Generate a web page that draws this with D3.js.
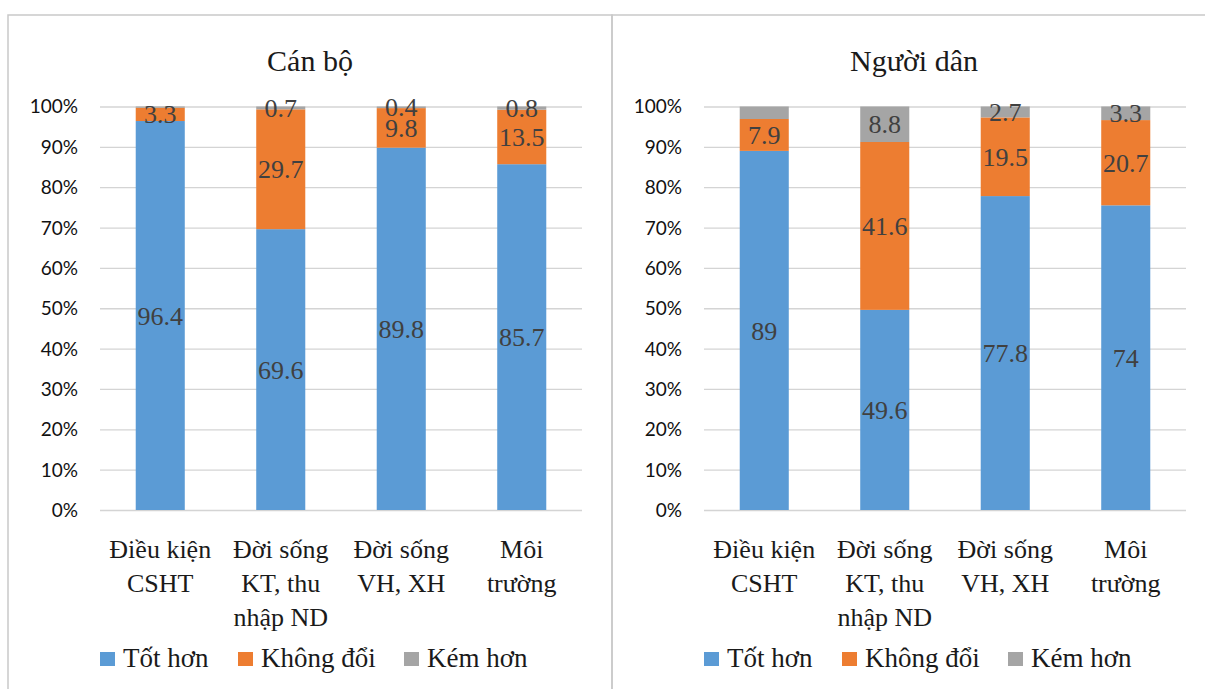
<!DOCTYPE html>
<html>
<head>
<meta charset="utf-8">
<script src="https://cdn.jsdelivr.net/npm/d3@7"></script>
</head>
<body style="margin:0">
<svg id="chart" width="1205" height="689"></svg>
<script>
// Categories (multi-line labels split on "\n")
const categories = [
  "Điều kiện\nCSHT",
  "Đời sống\nKT, thu\nnhập ND",
  "Đời sống\nVH, XH",
  "Môi\ntrường"
];
const seriesNames = ["Tốt hơn", "Không đổi", "Kém hơn"];
const seriesColors = ["#5B9BD5", "#ED7D31", "#A5A5A5"];
const yTicks = [0, 0.1, 0.2, 0.3, 0.4, 0.5, 0.6, 0.7, 0.8, 0.9, 1];

// Cán bộ
const canBoTotHon = [96.4, 69.6, 89.8, 85.7];
const canBoKhongDoi = [3.3, 29.7, 9.8, 13.5];
const canBoKemHon = [0.3, 0.7, 0.4, 0.8];
const canBoKemHonShown = [false, true, true, true];

// Người dân
const nguoiDanTotHon = [89, 49.6, 77.8, 74];
const nguoiDanKhongDoi = [7.9, 41.6, 19.5, 20.7];
const nguoiDanKemHon = [3.1, 8.8, 2.7, 3.3];
const nguoiDanKemHonShown = [false, true, true, true];

const svg = d3.select("#chart");
const SERIF = "Times New Roman";
const SANS = "Lato";

// Outer frames of the two chart panels
svg.append("rect").attr("x", 8).attr("y", 15).attr("width", 604).attr("height", 700)
  .attr("fill", "none").attr("stroke", "#C9C9C9").attr("stroke-width", 1.5);
svg.append("rect").attr("x", 612).attr("y", 15).attr("width", 604).attr("height", 700)
  .attr("fill", "none").attr("stroke", "#C9C9C9").attr("stroke-width", 1.5);

function drawPanel(offsetX, title, tot, khong, kem, kemShown) {
  const g = svg.append("g").attr("transform", `translate(${offsetX},0)`);
  const left = 92, right = 574, top = 106.5, bottom = 510;

  const x = d3.scaleBand().domain(categories).range([left, right])
    .paddingInner(0.593).paddingOuter(0.2965);
  const y = d3.scaleLinear().domain([0, 1]).range([bottom, top]);

  // Title
  g.append("text").attr("x", 302).attr("y", 71)
    .attr("text-anchor", "middle")
    .attr("font-family", SERIF).attr("font-size", 30).attr("fill", "#1a1a1a")
    .text(title);

  // Gridlines
  const grid = g.append("g").attr("transform", `translate(${left},0)`)
    .call(d3.axisLeft(y).tickValues(yTicks).tickSize(-(right - left)).tickFormat(""));
  grid.select(".domain").remove();
  grid.selectAll(".tick line").attr("stroke", "#D4D4D4").attr("stroke-width", 1.3);

  // Y axis labels
  const ya = g.append("g").attr("transform", `translate(${left - 22},0)`)
    .call(d3.axisLeft(y).tickValues(yTicks).tickSize(0).tickPadding(0).tickFormat(d3.format(".0%")));
  ya.select(".domain").remove();
  ya.attr("font-family", SANS).attr("font-size", 19);
  ya.selectAll(".tick text").attr("fill", "#111").attr("dy", "0.34em");

  // Stacked (100%) data
  const rows = categories.map((c, i) => {
    const total = tot[i] + khong[i] + kem[i];
    return { cat: c, vals: [tot[i], khong[i], kem[i]], total: total, show: [true, true, kemShown[i]] };
  });
  const stack = d3.stack().keys([0, 1, 2]).value((d, k) => d.vals[k] / d.total);
  const layers = stack(rows);

  layers.forEach((layer, si) => {
    g.append("g").selectAll("rect").data(layer).join("rect")
      .attr("x", d => x(d.data.cat))
      .attr("width", x.bandwidth())
      .attr("y", d => y(d[1]))
      .attr("height", d => y(d[0]) - y(d[1]))
      .attr("fill", seriesColors[si]);
  });

  layers.forEach((layer, si) => {
    g.append("g").selectAll("text").data(layer.filter(d => d.data.show[si])).join("text")
      .attr("x", d => x(d.data.cat) + x.bandwidth() / 2)
      .attr("y", d => y((d[0] + d[1]) / 2))
      .attr("dy", "0.35em")
      .attr("text-anchor", "middle")
      .attr("font-family", SERIF).attr("font-size", 26).attr("fill", "#404040")
      .text(d => d.data.vals[si]);
  });

  // Category labels
  const cl = g.append("g").selectAll("text").data(categories).join("text")
    .attr("x", d => x(d) + x.bandwidth() / 2)
    .attr("y", 558)
    .attr("text-anchor", "middle")
    .attr("font-family", SERIF).attr("font-size", 26).attr("fill", "#1a1a1a");
  cl.selectAll("tspan").data(d => d.split("\n")).join("tspan")
    .attr("x", function () { return d3.select(this.parentNode).attr("x"); })
    .attr("dy", (d, i) => i === 0 ? 0 : 34)
    .text(d => d);

  // Legend
  const legendX = [92, 230, 396];
  const lg = g.append("g").selectAll("g").data(seriesNames).join("g")
    .attr("transform", (d, i) => `translate(${legendX[i]},652)`);
  lg.append("rect").attr("width", 15).attr("height", 14)
    .attr("fill", (d, i) => seriesColors[i]);
  lg.append("text").attr("x", 23).attr("y", 15)
    .attr("font-family", SERIF).attr("font-size", 27).attr("fill", "#1a1a1a")
    .text(d => d);
}

drawPanel(8, "Cán bộ", canBoTotHon, canBoKhongDoi, canBoKemHon, canBoKemHonShown);
drawPanel(612, "Người dân", nguoiDanTotHon, nguoiDanKhongDoi, nguoiDanKemHon, nguoiDanKemHonShown);
</script>
</body>
</html>
